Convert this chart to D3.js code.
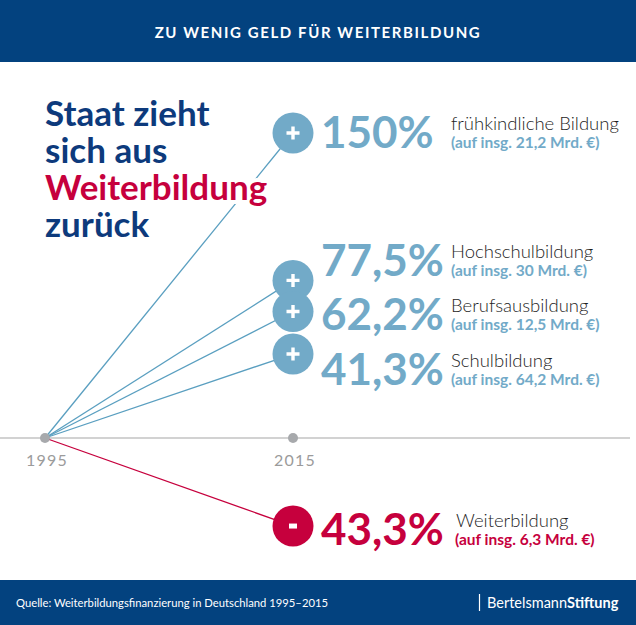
<!DOCTYPE html>
<html>
<head>
<meta charset="utf-8">
<script src="https://d3js.org/d3.v7.min.js"></script>
<title>Zu wenig Geld für Weiterbildung</title>
<style>
  body { margin: 0; background: #fff; }
  svg { display: block; font-family: Lato, "Open Sans", sans-serif; }
</style>
</head>
<body>
<svg width="636" height="625"></svg>
<script>
// data
const categories = ["frühkindliche Bildung", "Hochschulbildung", "Berufsausbildung", "Schulbildung", "Weiterbildung"];
const changes = [150, 77.5, 62.2, 41.3, -43.3];          // % change 1995 -> 2015
const totals = ["21,2", "30", "12,5", "64,2", "6,3"];   // Mrd. € in 2015
const years = [1995, 2015];
const titleLines = ["Staat zieht", "sich aus", "Weiterbildung", "zurück"];

const W = 636, H = 625;
const darkBlue = "#03427f", titleBlue = "#0d3a7c", red = "#c6003d",
      lightBlue = "#72aac8", lineBlue = "#5a9fc0", grey = "#a7a9ac";

const svg = d3.select("svg");
const de = d3.formatLocale({decimal: ",", thousands: ".", grouping: [3], currency: ["", " €"]});
const pct = de.format(".1~f");

const x = d3.scaleLinear().domain(years).range([45, 293]);
const y = d3.scaleLinear().domain([0, 150]).range([438, 133]);

// header + footer bands
svg.append("rect").attr("width", W).attr("height", 62).attr("fill", darkBlue);
svg.append("text").attr("x", 318).attr("y", 38).attr("text-anchor", "middle")
  .attr("fill", "#fff").attr("font-size", 15).attr("font-weight", 700)
  .attr("letter-spacing", 1.6).text("ZU WENIG GELD FÜR WEITERBILDUNG");

svg.append("rect").attr("y", 580).attr("width", W).attr("height", H - 580).attr("fill", darkBlue);
svg.append("text").attr("x", 16).attr("y", 607).attr("fill", "#fff").attr("font-size", 11.5)
  .attr("textLength", 312).attr("lengthAdjust", "spacingAndGlyphs")
  .text("Quelle: Weiterbildungsfinanzierung in Deutschland 1995–2015");
svg.append("line").attr("x1", 479.5).attr("x2", 479.5).attr("y1", 594).attr("y2", 611)
  .attr("stroke", "#fff").attr("stroke-width", 1.2);
const logo = svg.append("text").attr("x", 487).attr("y", 608).attr("fill", "#fff").attr("font-size", 14.5);
logo.append("tspan").text("Bertelsmann");
logo.append("tspan").attr("font-weight", 700).text("Stiftung");

// axis line with the two year dots
svg.append("line").attr("x1", 0).attr("x2", 630).attr("y1", y(0)).attr("y2", y(0))
  .attr("stroke", "#a5a5a5").attr("stroke-width", 1.2);

// fan lines 1995 -> 2015
svg.append("g").selectAll("line").data(changes).join("line")
  .attr("x1", x(1995)).attr("y1", y(0))
  .attr("x2", x(2015)).attr("y2", d => y(d))
  .attr("stroke", d => d < 0 ? red : lineBlue).attr("stroke-width", 1.3);

svg.append("g").selectAll("circle").data(years).join("circle")
  .attr("cx", d => x(d)).attr("cy", y(0)).attr("r", 5).attr("fill", grey);
svg.append("g").selectAll("text").data(years).join("text")
  .attr("x", d => x(d) + 2).attr("y", 466).attr("text-anchor", "middle")
  .attr("fill", "#9b9b9b").attr("font-size", 16).attr("letter-spacing", 1.2)
  .text(d => d);

// title as one text block, white halo so it cuts through the line
svg.append("text")
  .attr("font-size", 35).attr("font-weight", 700)
  .attr("stroke", "#fff").attr("stroke-width", 8).attr("paint-order", "stroke")
  .attr("stroke-linejoin", "round")
  .selectAll("tspan").data(titleLines).join("tspan")
  .attr("x", 45).attr("y", (d, i) => 126 + i * 37)
  .attr("fill", d => d === "Weiterbildung" ? red : titleBlue)
  .text(d => d);

// bubbles with + / -
const bub = svg.append("g").selectAll("g").data(changes).join("g")
  .attr("transform", d => `translate(${x(2015)},${y(d)})`);
bub.append("circle").attr("r", 20.5).attr("fill", d => d < 0 ? red : lightBlue);
bub.filter(d => d >= 0).append("path").attr("d", "M-6.5,0H6.5M0,-6.5V6.5")
  .attr("stroke", "#fff").attr("stroke-width", 3.4);
bub.filter(d => d < 0).append("path").attr("d", "M-4,0H4")
  .attr("stroke", "#fff").attr("stroke-width", 5);

// labels to the right (baseline shift relative to bubble centre)
const labelShift = [15, -4, 18, 31, 19];
const lab = svg.append("g").selectAll("g").data(changes).join("g")
  .attr("transform", (d, i) => `translate(0,${y(d) + labelShift[i]})`);
lab.append("text").attr("x", 321).attr("font-size", 44).attr("font-weight", 700)
  .attr("fill", d => d < 0 ? red : lightBlue)
  .text(d => pct(Math.abs(d)) + "%");
lab.append("text").attr("x", (d, i) => d < 0 ? 456 : 451).attr("y", -18)
  .attr("font-size", 18.5).attr("font-weight", 300).attr("fill", "#1e1e1e")
  .text((d, i) => categories[i]);
lab.append("text").attr("x", (d, i) => d < 0 ? 455 : 451).attr("y", 0)
  .attr("font-size", 15.5).attr("font-weight", 700)
  .attr("fill", d => d < 0 ? red : lightBlue)
  .text((d, i) => `(auf insg. ${totals[i]} Mrd. €)`);
</script>
</body>
</html>
